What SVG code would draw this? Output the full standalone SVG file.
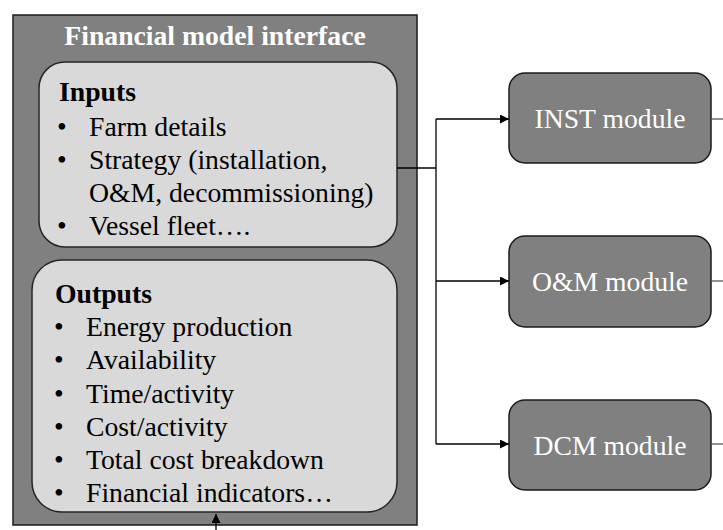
<svg xmlns="http://www.w3.org/2000/svg" width="723" height="530" viewBox="0 0 723 530">
<style>
text{font-family:"Liberation Serif","Times New Roman",serif;font-size:27.7px}
.w{fill:#ffffff}
.k{fill:#000000}
.b{font-weight:bold}
.outer{fill:#808080;stroke:#1a1a1a;stroke-width:1.5}
.inner{fill:#d9d9d9;stroke:#262626;stroke-width:1.5}
.mod{fill:#808080;stroke:#1a1a1a;stroke-width:1.5}
.c{fill:none;stroke:#000;stroke-width:1.3}
.g{fill:none;stroke:#555;stroke-width:1.3}
</style>
<defs>
<marker id="ah" viewBox="0 0 10 10" refX="10" refY="5" markerWidth="9" markerHeight="9" markerUnits="userSpaceOnUse" orient="auto">
<path d="M0,0 L10,5 L0,10 z" fill="#000"/>
</marker>
</defs>
<g id="interface">
<rect class="outer" x="13" y="15" width="404" height="510"/>
<text class="w b" x="215" y="45" text-anchor="middle">Financial model interface</text>
</g>
<g id="inputs">
<rect class="inner" x="39" y="62" width="358" height="185" rx="26" ry="26"/>
<text class="k b" x="59" y="101">Inputs</text>
<text class="k" x="57" y="136">•</text><text class="k" x="89" y="136">Farm details</text>
<text class="k" x="57" y="169">•</text><text class="k" x="89" y="169">Strategy (installation,</text>
<text class="k" x="89" y="202">O&amp;M, decommissioning)</text>
<text class="k" x="57" y="235">•</text><text class="k" x="89" y="235">Vessel fleet….</text>
</g>
<g id="outputs">
<rect class="inner" x="32" y="260" width="365" height="252" rx="30" ry="30"/>
<text class="k b" x="55" y="303">Outputs</text>
<text class="k" x="54" y="336">•</text><text class="k" x="86" y="336">Energy production</text>
<text class="k" x="54" y="369">•</text><text class="k" x="86" y="369">Availability</text>
<text class="k" x="54" y="403">•</text><text class="k" x="86" y="403">Time/activity</text>
<text class="k" x="54" y="436">•</text><text class="k" x="86" y="436">Cost/activity</text>
<text class="k" x="54" y="469">•</text><text class="k" x="86" y="469">Total cost breakdown</text>
<text class="k" x="54" y="502">•</text><text class="k" x="86" y="502">Financial indicators…</text>
</g>
<g id="inst">
<rect class="mod" x="509" y="73" width="202" height="90" rx="16" ry="16"/>
<text class="w" x="610" y="128" text-anchor="middle">INST module</text>
</g>
<g id="om">
<rect class="mod" x="509" y="236" width="202" height="91" rx="16" ry="16"/>
<text class="w" x="610" y="291" text-anchor="middle">O&amp;M module</text>
</g>
<g id="dcm">
<rect class="mod" x="509" y="400" width="202" height="90" rx="16" ry="16"/>
<text class="w" x="610" y="455" text-anchor="middle">DCM module</text>
</g>
<g id="connectors">
<path class="c" d="M397,168 H436"/>
<path class="c" d="M436,119 V444"/>
<path class="c" d="M436,119 H509" marker-end="url(#ah)"/>
<path class="c" d="M436,281 H509" marker-end="url(#ah)"/>
<path class="c" d="M436,444 H509" marker-end="url(#ah)"/>
<path class="g" d="M711,119 H723"/>
<path class="g" d="M711,281 H723"/>
<path class="g" d="M711,444 H723"/>
<path class="c" d="M216,530 V514" marker-end="url(#ah)"/>
</g>
</svg>
